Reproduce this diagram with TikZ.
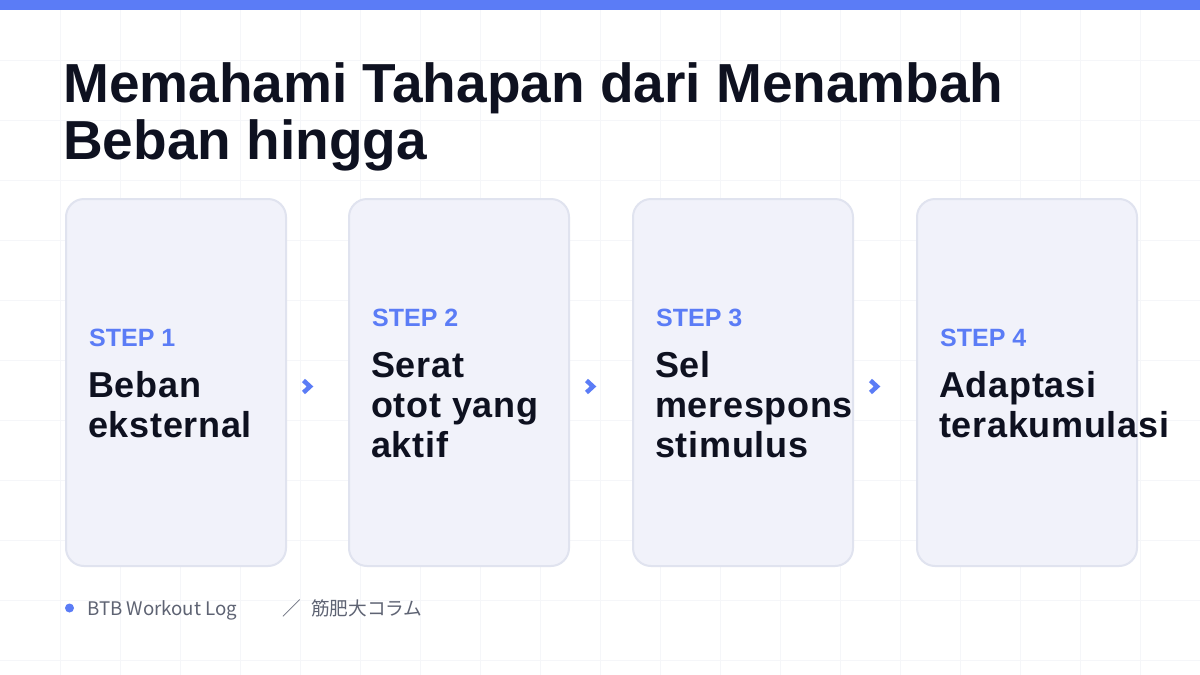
\documentclass[tikz,border=0pt]{standalone}
\usepackage{fontspec}
\setmainfont{Liberation Sans}
\newfontfamily\jpfont{Noto Sans CJK JP}
\usetikzlibrary{calc}
\definecolor{accent}{HTML}{5B7CF6}
\definecolor{ink}{HTML}{0E1120}
\definecolor{boxfill}{HTML}{F1F2FA}
\definecolor{boxline}{HTML}{E0E3EF}
\definecolor{gridc}{HTML}{F5F6F9}
\definecolor{muted}{HTML}{5E6373}
\begin{document}
\begin{tikzpicture}[x=1pt,y=-1pt,
 stepbox/.style={draw=boxline, fill=boxfill, line width=2pt, rounded corners=18pt, minimum width=220pt, minimum height=367pt, inner sep=0pt, anchor=north west},
 steplabel/.style={anchor=base west, inner sep=0pt, text=accent, font=\bfseries\fontsize{25}{25}\selectfont},
 steptext/.style={anchor=base west, inner sep=0pt, text=ink, align=left, font=\bfseries\fontsize{36}{40}\selectfont\addfontfeatures{LetterSpace=2}},
 chev/.style={draw=accent, line width=4.5pt}]
\useasboundingbox (0,0) rectangle (1200,675);
\fill[white] (0,0) rectangle (1200,675);
\foreach \i in {60,120,...,1140} \draw[gridc, line width=1pt] (\i,0) -- (\i,675);
\foreach \j in {60,120,...,660} \draw[gridc, line width=1pt] (0,\j) -- (1200,\j);
\fill[accent] (0,0) rectangle (1200,9.5);
\node[anchor=base west, inner sep=0pt, text=ink, align=left, font=\bfseries\fontsize{55}{57}\selectfont] (title) at (63,159) {Memahami Tahapan dari Menambah\\Beban hingga};
\node[stepbox] (b1) at (65,198) {};
\node[stepbox] (b2) at (348,198) {};
\node[stepbox] (b3) at (632,198) {};
\node[stepbox] (b4) at (916,198) {};
\node[steplabel] (l1) at ($(b1.north west)+(24,148)$) {STEP 1};
\node[steptext] (t1) at ($(b1.north west)+(23,239)$) {Beban\\eksternal};
\node[steplabel] (l2) at ($(b2.north west)+(24,128)$) {STEP 2};
\node[steptext] (t2) at ($(b2.north west)+(23,259)$) {Serat\\otot yang\\aktif};
\node[steplabel] (l3) at ($(b3.north west)+(24,128)$) {STEP 3};
\node[steptext] (t3) at ($(b3.north west)+(23,259)$) {Sel\\merespons\\stimulus};
\node[steplabel] (l4) at ($(b4.north west)+(24,148)$) {STEP 4};
\node[steptext] (t4) at ($(b4.north west)+(23,239)$) {Adaptasi\\terakumulasi};
\draw[chev] ($(b1.east)+(16.5,-2)$) -- ++(6.5,6) -- ++(-6.5,6);
\draw[chev] ($(b2.east)+(16.5,-2)$) -- ++(6.5,6) -- ++(-6.5,6);
\draw[chev] ($(b3.east)+(16.5,-2)$) -- ++(6.5,6) -- ++(-6.5,6);
\node[circle, fill=accent, minimum size=9pt, inner sep=0pt] (dot) at (69.5,608) {};
\node[anchor=base west, inner sep=0pt, text=muted, font=\jpfont\fontsize{18.7}{19}\selectfont] (footer) at (87,615) {BTB Workout Log\hspace{45pt}／\hspace{10pt}筋肥大コラム};
\end{tikzpicture}
\end{document}
